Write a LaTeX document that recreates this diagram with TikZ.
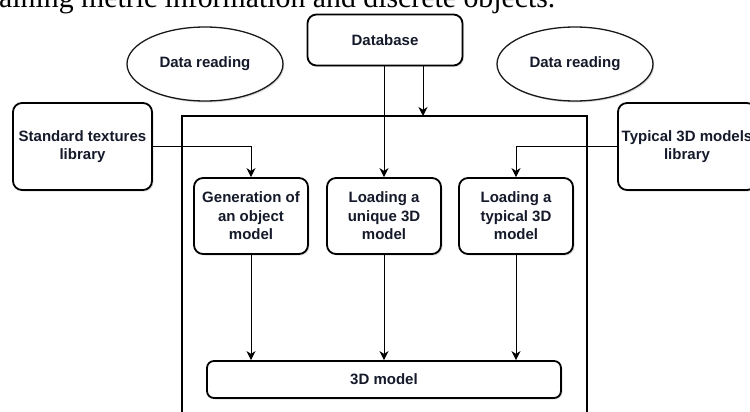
\documentclass[tikz,border=0pt]{standalone}
\usepackage{fontspec}
\setmainfont{Liberation Sans}
\newfontfamily\serifcap{Liberation Serif}
\usetikzlibrary{shapes.geometric,arrows.meta,shadows}
\definecolor{txt}{HTML}{151A2A}
\tikzset{
  box/.style={draw=black, line width=1.8pt, rounded corners=9pt, fill=white,
    align=center, text=txt, font=\bfseries\fontsize{15}{18.5}\selectfont,
    inner sep=0pt,
    drop shadow={opacity=0.25, shadow xshift=1.5pt, shadow yshift=-1.5pt}},
  oval/.style={ellipse, draw=black!90, line width=1.3pt, fill=white,
    align=center, text=txt, font=\bfseries\fontsize{15}{18.5}\selectfont,
    inner sep=0pt,
    drop shadow={opacity=0.3, shadow xshift=1.2pt, shadow yshift=-1.5pt}},
  conn/.style={draw=black, line width=1pt, -{Stealth[length=9pt,width=9pt,inset=2.8pt]}},
  plain/.style={draw=black, line width=1pt}
}
\begin{document}
\begin{tikzpicture}[x=1pt,y=-1pt]
\clip (0,0) rectangle (750,412);
\fill[white] (0,0) rectangle (750,412);
% cropped caption line
\node[anchor=base west, inner sep=0pt, font=\serifcap\fontsize{29.8}{31}\selectfont] (cap) at (-1,7.5) {aining metric information and discrete objects.};
% big frame
\draw[line width=1.8pt] (182,430) -- (182,116) -- (587,116) -- (587,430);
\coordinate (ftop) at (423,116);
% nodes
\node[box, minimum width=155pt, minimum height=51pt] (db) at (385,40) {Database};
\node[oval, minimum width=156pt, minimum height=74pt] (el1) at (205,64) {Data reading};
\node[oval, minimum width=156pt, minimum height=74pt] (el2) at (575,64) {Data reading};
\node[box, minimum width=139pt, minimum height=87pt] (stl) at (82.5,146.5) {Standard textures\\library};
\node[box, minimum width=138pt, minimum height=87pt] (tml) at (687,146.5) {Typical 3D models\\library};
\node[box, minimum width=114pt, minimum height=76pt] (gen) at (251,216) {Generation of\\an object\\model};
\node[box, minimum width=114pt, minimum height=76pt] (uni) at (384,216) {Loading a\\unique 3D\\model};
\node[box, minimum width=114pt, minimum height=76pt] (typ) at (516,216) {Loading a\\typical 3D\\model};
\node[box, minimum width=354pt, minimum height=37pt, rounded corners=7pt] (m3d) at (384,379.5) {3D model};
% connectors
\draw[conn] (stl) -| (gen);
\draw[conn] (tml) -| (typ);
\draw[conn] (uni.north |- db.south) -- (uni.north);
\draw[conn] (ftop |- db.south) -- (ftop);
\draw[conn] (gen.south) -- (gen.south |- m3d.north);
\draw[conn] (uni.south) -- (uni.south |- m3d.north);
\draw[conn] (typ.south) -- (typ.south |- m3d.north);
\end{tikzpicture}
\end{document}
